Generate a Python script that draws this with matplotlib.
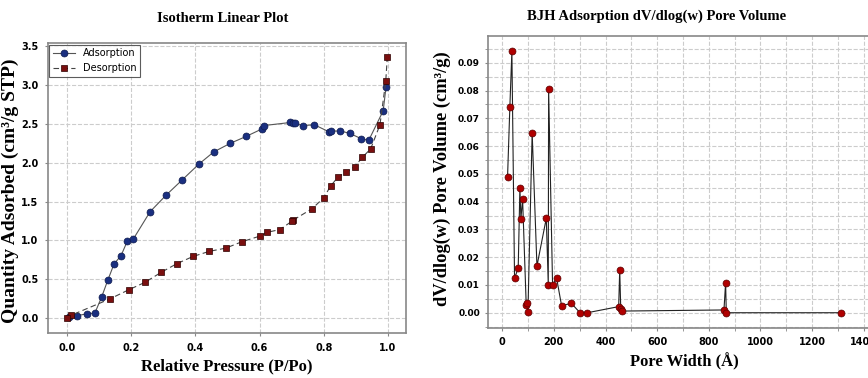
import numpy as np
import matplotlib.pyplot as plt
from matplotlib.ticker import MultipleLocator

# Isotherm data (relative pressure, quantity adsorbed)
ads_p = [0.005, 0.031, 0.064, 0.087, 0.108, 0.127, 0.147, 0.168, 0.188, 0.207,
         0.259, 0.308, 0.359, 0.410, 0.457, 0.508, 0.558, 0.609, 0.613, 0.696,
         0.703, 0.709, 0.734, 0.771, 0.816, 0.821, 0.852, 0.881, 0.917, 0.940,
         0.985, 0.994]
ads_q = [0.01, 0.03, 0.056, 0.064, 0.27, 0.485, 0.70, 0.80, 0.99, 1.02,
         1.37, 1.58, 1.78, 1.98, 2.14, 2.25, 2.34, 2.44, 2.48, 2.52,
         2.51, 2.51, 2.48, 2.49, 2.40, 2.41, 2.41, 2.38, 2.31, 2.29,
         2.67, 2.98]
des_p = [0.998, 0.993, 0.975, 0.946, 0.920, 0.896, 0.870, 0.845, 0.821, 0.800,
         0.764, 0.704, 0.700, 0.663, 0.624, 0.601, 0.545, 0.494, 0.444, 0.393,
         0.342, 0.294, 0.243, 0.193, 0.133, 0.012, 0.0]
des_q = [3.37, 3.05, 2.49, 2.18, 2.07, 1.95, 1.88, 1.82, 1.70, 1.55,
         1.41, 1.26, 1.245, 1.14, 1.105, 1.056, 0.983, 0.90, 0.86, 0.794,
         0.70, 0.59, 0.46, 0.365, 0.245, 0.034, 0.004]

# BJH pore size distribution
pore_w = [20.7, 29.7, 37.5, 47.8, 62, 68.5, 72.4, 78.9, 93, 95.7, 99.6, 116,
          134.5, 170.7, 178.4, 179.7, 195, 210.8, 230, 267.6, 301.3, 329.7,
          451, 455, 459, 463, 858.6, 865, 867.6, 1309.8]
pore_v = [0.0488, 0.0742, 0.0942, 0.0124, 0.0161, 0.0449, 0.0338, 0.0410,
          0.0028, 0.0034, 0.0002, 0.0648, 0.0168, 0.0340, 0.0101, 0.0805,
          0.0101, 0.0124, 0.0025, 0.0034, 0.0, 0.0, 0.0022, 0.0154, 0.0014,
          0.0006, 0.0010, 0.0108, 0.0, 0.0]

tick_font = ['Liberation Sans Narrow', 'DejaVu Sans']
grid_kw = dict(color='#cccccc', linestyle='--', linewidth=0.8)

fig = plt.figure(figsize=(8.68, 3.78), dpi=100)

# ---- left: isotherm ----
ax1 = fig.add_axes([0.0553, 0.119, 0.4124, 0.767])
ax1.plot(ads_p, ads_q, color='#555555', linewidth=0.8, marker='o', markersize=5,
         markerfacecolor='#1a2f80', markeredgecolor='#0d1a4d', markeredgewidth=0.5,
         label='Adsorption', zorder=3)
ax1.plot(des_p, des_q, color='#444444', linewidth=0.8, linestyle=(0, (5, 3)),
         marker='s', markersize=5, markerfacecolor='#7a0f0f',
         markeredgecolor='#2b0000', markeredgewidth=0.5, label='Desorption', zorder=3)
ax1.set_xlim(-0.059, 1.056)
ax1.set_ylim(-0.193, 3.543)
ax1.yaxis.set_major_locator(MultipleLocator(0.5))
ax1.set_xticks(np.arange(0, 1.01, 0.2))
ax1.set_xticklabels(['0.0', '0.2', '0.4', '0.6', '0.8', '1.0'])
ax1.grid(True, **grid_kw)
ax1.set_axisbelow(True)
ax1.set_xlabel('Relative Pressure (P/Po)', family='Liberation Serif',
               fontweight='bold', fontsize=12, labelpad=4)
ax1.set_ylabel('Quantity Adsorbed (cm³/g STP)', family='Liberation Serif',
               fontweight='bold', fontsize=14)
ax1.yaxis.set_label_coords(-0.080, 0.489)
leg = ax1.legend(loc='upper left', frameon=True, fancybox=False,
                 borderaxespad=0.15, handlelength=2.2, borderpad=0.4,
                 prop={'family': tick_font, 'size': 7})
leg.get_frame().set_edgecolor('#333333')
leg.get_frame().set_linewidth(0.8)

# ---- right: BJH ----
ax2 = fig.add_axes([0.5625, 0.133, 0.452, 0.772])
ax2.plot(pore_w, pore_v, color='#222222', linewidth=0.8, marker='o', markersize=5,
         markerfacecolor='#b00000', markeredgecolor='#5a0000', markeredgewidth=0.5,
         zorder=3)
ax2.set_xlim(-54, 1465)
ax2.set_ylim(-0.0054, 0.0997)
ax2.xaxis.set_major_locator(MultipleLocator(200))
ax2.xaxis.set_minor_locator(MultipleLocator(100))
ax2.yaxis.set_major_locator(MultipleLocator(0.01))
ax2.yaxis.set_minor_locator(MultipleLocator(0.005))
ax2.yaxis.set_major_formatter(plt.FuncFormatter(lambda v, p: '%.2f' % v))
ax2.grid(True, which='both', **grid_kw)
ax2.set_axisbelow(True)
ax2.set_xlabel('Pore Width (Å)', family='Liberation Serif',
               fontweight='bold', fontsize=12, labelpad=4)
ax2.set_ylabel('dV/dlog(w) Pore Volume (cm³/g)', family='Liberation Serif',
               fontweight='bold', fontsize=13.3)
ax2.yaxis.set_label_coords(-0.094, 0.512)

for ax in (ax1, ax2):
    for s in ax.spines.values():
        s.set_color('#888888')
        s.set_linewidth(1.2)
    ax.tick_params(which='both', length=2, color='#888888', labelsize=7, pad=5)
    for lab in ax.get_xticklabels() + ax.get_yticklabels():
        lab.set_family(tick_font)
        lab.set_fontweight('bold')
ax2.tick_params(axis='y', labelsize=6.5, pad=4)

fig.text(0.257, 0.952, 'Isotherm Linear Plot', family='Liberation Serif',
         fontweight='bold', fontsize=10.5, ha='center', va='center')
fig.text(0.756, 0.958, 'BJH Adsorption dV/dlog(w) Pore Volume', family='Liberation Serif',
         fontweight='bold', fontsize=10.5, ha='center', va='center')

fig.savefig('out.png', dpi=100)
